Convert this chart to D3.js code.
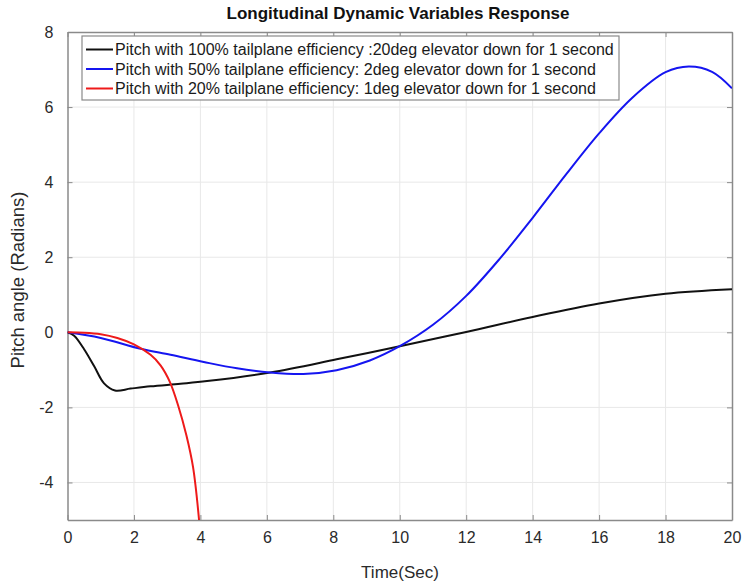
<!DOCTYPE html>
<html>
<head>
<meta charset="utf-8">
<script src="https://cdn.jsdelivr.net/npm/d3@7"></script>
<style>
  body { margin: 0; background: #fff; }
  text { font-family: "Liberation Sans", Arial, Helvetica, sans-serif; }
</style>
</head>
<body>
<script>
// ---- data ----
var xTicks = [0, 2, 4, 6, 8, 10, 12, 14, 16, 18, 20];
var yTicks = [-4, -2, 0, 2, 4, 6, 8];

var blackT = [0, 0.2, 0.5, 0.8, 1.1, 1.43, 1.9, 2.5, 3.4, 4.2, 6.1, 8.1, 10, 12, 14, 16, 18, 20];
var blackY = [0, -0.09, -0.45, -0.9, -1.36, -1.55, -1.5, -1.44, -1.37, -1.3, -1.07, -0.72, -0.37, 0.01, 0.41, 0.77, 1.03, 1.15];

var blueT = [0, 1, 2.2, 3.1, 4.1, 5.1, 6.1, 7.1, 8.1, 9.1, 10, 11, 12, 13, 14, 15, 16, 17, 18, 18.7, 19.4, 20];
var blueY = [0, -0.15, -0.44, -0.6, -0.79, -0.96, -1.07, -1.11, -1.01, -0.75, -0.37, 0.2, 0.97, 1.95, 3.05, 4.2, 5.3, 6.25, 6.93, 7.08, 6.94, 6.5];

var redT = [0, 0.5, 1, 1.5, 2, 2.5, 2.8, 3.08, 3.33, 3.58, 3.78, 3.96];
var redY = [0, -0.01, -0.05, -0.15, -0.32, -0.6, -0.88, -1.32, -1.95, -2.75, -3.6, -5.0];

var legendLabels = [
	"Pitch with 100% tailplane efficiency :20deg elevator down for 1 second",
	"Pitch with 50% tailplane efficiency: 2deg elevator down for 1 second",
	"Pitch with 20% tailplane efficiency: 1deg elevator down for 1 second"
];
var seriesColors = ["#111111", "#1515f0", "#ee1a1a"];

//-----------------------SVG SETUP----------------------------------------------------
var width = 743, height = 584;
var margin = {left: 67.5, right: 11, top: 32, bottom: 64};

var svg = d3.select("body").append("svg")
	.attr("width", width)
	.attr("height", height);

var x = d3.scaleLinear().domain([0, 20]).range([margin.left, width - margin.right]);
var y = d3.scaleLinear().domain([-5, 8]).range([height - margin.bottom, margin.top]);

// grid
svg.append("g").selectAll("line").data(xTicks.slice(1, -1)).join("line")
	.attr("x1", d => x(d)).attr("x2", d => x(d))
	.attr("y1", y(-5)).attr("y2", y(8))
	.attr("stroke", "#e8e8e8").attr("stroke-width", 1);
svg.append("g").selectAll("line").data(yTicks.filter(d => d != 8)).join("line")
	.attr("x1", x(0)).attr("x2", x(20))
	.attr("y1", d => y(d)).attr("y2", d => y(d))
	.attr("stroke", "#e8e8e8").attr("stroke-width", 1);

// axes (MATLAB style, ticks inside, box on)
function styleAxis(g) {
	g.select(".domain").attr("stroke", "#8a8a8a").attr("stroke-width", 1.5);
	g.selectAll(".tick line").attr("stroke", "#8a8a8a");
	g.selectAll(".tick text").attr("fill", "#2a2a2a").style("font-size", "16px");
}
var plainFmt = d => String(d);
svg.append("g").attr("transform", "translate(0," + y(-5) + ")")
	.call(d3.axisBottom(x).tickValues(xTicks).tickSizeInner(-5).tickSizeOuter(0).tickPadding(12).tickFormat(plainFmt))
	.call(styleAxis);
svg.append("g").attr("transform", "translate(" + x(0) + ",0)")
	.call(d3.axisLeft(y).tickValues(yTicks).tickSizeInner(-5).tickSizeOuter(0).tickPadding(14).tickFormat(plainFmt))
	.call(styleAxis);
svg.append("g").attr("transform", "translate(0," + y(8) + ")")
	.call(d3.axisTop(x).tickValues(xTicks).tickSizeInner(-5).tickSizeOuter(0).tickFormat(""))
	.call(styleAxis);
svg.append("g").attr("transform", "translate(" + x(20) + ",0)")
	.call(d3.axisRight(y).tickValues(yTicks).tickSizeInner(-5).tickSizeOuter(0).tickFormat(""))
	.call(styleAxis);

// lines
svg.append("clipPath").attr("id", "plotClip").append("rect")
	.attr("x", x(0)).attr("y", y(8)).attr("width", x(20) - x(0)).attr("height", y(-5) - y(8));

var line = d3.line().x(d => x(d[0])).y(d => y(d[1])).curve(d3.curveCatmullRom.alpha(0.5));
var allSeries = [
	d3.zip(blackT, blackY),
	d3.zip(blueT, blueY),
	d3.zip(redT, redY)
];
svg.append("g").attr("clip-path", "url(#plotClip)")
	.selectAll("path").data(allSeries).join("path")
	.attr("d", line)
	.attr("fill", "none")
	.attr("stroke", (d, i) => seriesColors[i])
	.attr("stroke-width", 2);

// legend
var legend = svg.append("g");
legend.append("rect")
	.attr("x", 82).attr("y", 36).attr("width", 537).attr("height", 64)
	.attr("fill", "#fff").attr("stroke", "#8a8a8a").attr("stroke-width", 1.2);
legendLabels.forEach(function(lbl, i) {
	var ly = 49.5 + i * 19.5;
	legend.append("line")
		.attr("x1", 86).attr("x2", 113).attr("y1", ly).attr("y2", ly)
		.attr("stroke", seriesColors[i]).attr("stroke-width", 2);
	legend.append("text")
		.attr("x", 115).attr("y", ly + 5.5)
		.attr("fill", "#1a1a1a")
		.style("font-size", "16px")
		.text(lbl);
});

// title and labels
svg.append("text")
	.attr("x", 398).attr("y", 19)
	.attr("text-anchor", "middle")
	.style("font-size", "17px").style("font-weight", "bold")
	.attr("fill", "#111")
	.text("Longitudinal Dynamic Variables Response");

svg.append("text")
	.attr("x", 400).attr("y", 578)
	.attr("text-anchor", "middle")
	.style("font-size", "17px")
	.attr("fill", "#2a2a2a")
	.text("Time(Sec)");

svg.append("text")
	.attr("transform", "translate(24,280) rotate(-90)")
	.attr("text-anchor", "middle")
	.style("font-size", "18.5px")
	.attr("fill", "#2a2a2a")
	.text("Pitch angle (Radians)");
</script>
</body>
</html>
